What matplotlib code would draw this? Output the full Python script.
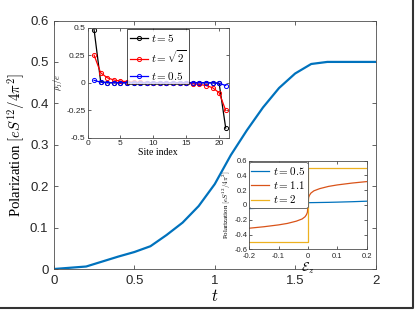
import matplotlib
matplotlib.use("Agg")
import matplotlib.pyplot as plt
from matplotlib.lines import Line2D
import numpy as np

plt.rcParams['mathtext.fontset'] = 'cm'
plt.rcParams['font.family'] = ['Liberation Sans', 'DejaVu Sans']

# ---- main curve ----
t_main = [0.0, 0.1, 0.2, 0.3, 0.4, 0.5, 0.6, 0.7, 0.8, 0.9, 1.0, 1.1, 1.2,
          1.3, 1.4, 1.5, 1.6, 1.7, 1.8, 1.9, 2.0]
p_main = [0.0, 0.003, 0.006, 0.018, 0.030, 0.041, 0.055, 0.082, 0.112, 0.152,
          0.205, 0.275, 0.335, 0.390, 0.437, 0.472, 0.495, 0.500, 0.500, 0.500, 0.500]
main_xticks = [0, 0.5, 1, 1.5, 2]
main_xticklabels = ['0', '0.5', '1', '1.5', '2']
main_yticks = [0, 0.1, 0.2, 0.3, 0.4, 0.5, 0.6]
main_yticklabels = ['0', '0.1', '0.2', '0.3', '0.4', '0.5', '0.6']

# ---- inset 1: charge density vs site ----
sites = list(range(1, 22))
rho_t5 = [0.48, 0.01, 0, 0, 0, 0, 0, 0, 0, 0, 0, 0, 0, 0, 0, 0, 0, 0, 0, -0.005, -0.41]
rho_tsqrt2 = [0.25, 0.09, 0.045, 0.025, 0.015, 0.01, 0.006, 0.004, 0.002, 0.001, 0.0,
              -0.001, -0.002, -0.004, -0.006, -0.01, -0.015, -0.025, -0.045, -0.09, -0.25]
rho_t05 = [0.022, 0.005, 0.001, 0, 0, 0, 0, 0, 0, 0, 0, 0, 0, 0, 0, 0, 0, 0, -0.001, -0.005, -0.025]
in1_labels = [r'$t=5$', r'$t=\sqrt{2}$', r'$t=0.5$']
in1_colors = ['black', 'red', 'blue']
in1_xticks = [0, 5, 10, 15, 20]
in1_yticks = [-0.5, -0.25, 0, 0.25, 0.5]
in1_yticklabels = ['-0.5', '-0.25', '0', '0.25', '0.5']

# ---- inset 2: polarization vs field ----
eps_half = [0.0, 0.002, 0.005, 0.01, 0.02, 0.04, 0.07, 0.1, 0.15, 0.2]
p_t05_half = [0.03, 0.0301, 0.0303, 0.0306, 0.0312, 0.0325, 0.0345, 0.0375, 0.043, 0.05]
p_t11_half = [0.0, 0.10, 0.13, 0.16, 0.19, 0.22, 0.25, 0.27, 0.295, 0.315]
p_t2_half = [0.5, 0.5, 0.5, 0.5, 0.5, 0.5, 0.5, 0.5, 0.5, 0.5]
in2_labels = [r'$t=0.5$', r'$t=1.1$', r'$t=2$']
in2_colors = ['#0072BD', '#D95319', '#EDB120']
in2_xticks = [-0.2, -0.1, 0, 0.1, 0.2]
in2_xticklabels = ['-0.2', '-0.1', '0', '0.1', '0.2']
in2_yticks = [-0.6, -0.4, -0.2, 0, 0.2, 0.4, 0.6]
in2_yticklabels = ['-0.6', '-0.4', '-0.2', '0', '0.2', '0.4', '0.6']

W, H = 415, 312
fig = plt.figure(figsize=(W / 100, H / 100), dpi=100)

def frac(l, t, r, b):
    return [l / W, (H - b) / H, (r - l) / W, (b - t) / H]

spine_col = '#4d4d4d'

def style(ax, size):
    for s in ax.spines.values():
        s.set_color(spine_col)
        s.set_linewidth(0.6)
    ax.tick_params(direction='in', top=True, right=True, labelsize=size,
                   colors='#262626', width=0.5, length=3, pad=2)

# main axes
ax = fig.add_axes(frac(54, 20.5, 375.5, 269))
ax.plot(t_main, p_main, color='#0072BD', lw=1.6)
ax.set_xlim(0, 2)
ax.set_ylim(0, 0.6)
ax.set_xticks(main_xticks)
ax.set_xticklabels(main_xticklabels)
ax.set_yticks(main_yticks)
ax.set_yticklabels(main_yticklabels)
style(ax, 9.5)
ax.tick_params(pad=4)
ax.set_xlabel(r'$t$', fontsize=12, labelpad=1)
ax.set_ylabel(r'Polarization $[eS^{12}/4\pi^2]$', fontsize=10.7,
              family='Liberation Serif', labelpad=2)

# inset 1
ax1 = fig.add_axes(frac(87.5, 27.5, 229, 138))
for y, c, lab in zip([rho_t5, rho_tsqrt2, rho_t05], in1_colors, in1_labels):
    ax1.plot(sites, y, color=c, lw=0.9, marker='o', ms=3, mfc='none', mew=0.7, label=lab)
ax1.set_xlim(0, 21.5)
ax1.set_ylim(-0.5, 0.5)
ax1.set_xticks(in1_xticks)
ax1.set_yticks(in1_yticks)
ax1.set_yticklabels(in1_yticklabels)
style(ax1, 6)
ax1.tick_params(length=2, pad=1.5)
ax1.set_xlabel('Site index', fontsize=7, family='Liberation Serif', labelpad=0.5)
ax1.set_ylabel(r'$\rho_j/e$', fontsize=6, labelpad=1)
leg1 = ax1.legend(loc='upper right', bbox_to_anchor=(0.719, 0.984), fontsize=8,
                  frameon=True, fancybox=False, edgecolor='black', handlelength=1.6,
                  handletextpad=0.3, borderpad=0.25, labelspacing=0.4, borderaxespad=0)
leg1.get_frame().set_linewidth(0.6)

# inset 2
eps = [-e for e in eps_half[::-1]] + eps_half
def mirror(v):
    return [-x for x in v[::-1]] + v
ax2 = fig.add_axes(frac(249.3, 160.5, 366.7, 249.3))
for y, c, lab in zip([p_t05_half, p_t11_half, p_t2_half], in2_colors, in2_labels):
    ax2.plot(eps, mirror(y), color=c, lw=0.9, label=lab)
ax2.set_xlim(-0.2, 0.2)
ax2.set_ylim(-0.6, 0.6)
ax2.set_xticks(in2_xticks)
ax2.set_xticklabels(in2_xticklabels)
ax2.set_yticks(in2_yticks)
ax2.set_yticklabels(in2_yticklabels)
style(ax2, 5.5)
ax2.tick_params(length=2, pad=1.5)
ax2.tick_params(axis='x', pad=3)
ax2.set_xlabel(r'$\mathcal{E}_z$', fontsize=9, labelpad=0)
ax2.set_ylabel(r'Polarization $[eS^{12}/4\pi^2]$', fontsize=5,
               family='Liberation Serif', labelpad=1)
leg2 = ax2.legend(loc='upper left', bbox_to_anchor=(-0.005, 0.98), fontsize=8,
                  frameon=True, fancybox=True, edgecolor='#555555', handlelength=1.6,
                  handletextpad=0.3, borderpad=0.25, labelspacing=0.2, borderaxespad=0)
leg2.get_frame().set_linewidth(0.6)
leg2.get_frame().set_alpha(1)

# figure border (right and bottom)
fig.add_artist(Line2D([0, 413 / W, 413 / W], [(H - 308) / H, (H - 308) / H, 1],
                      transform=fig.transFigure, color='#333333', lw=1.5))

fig.savefig('out.png', dpi=100)
